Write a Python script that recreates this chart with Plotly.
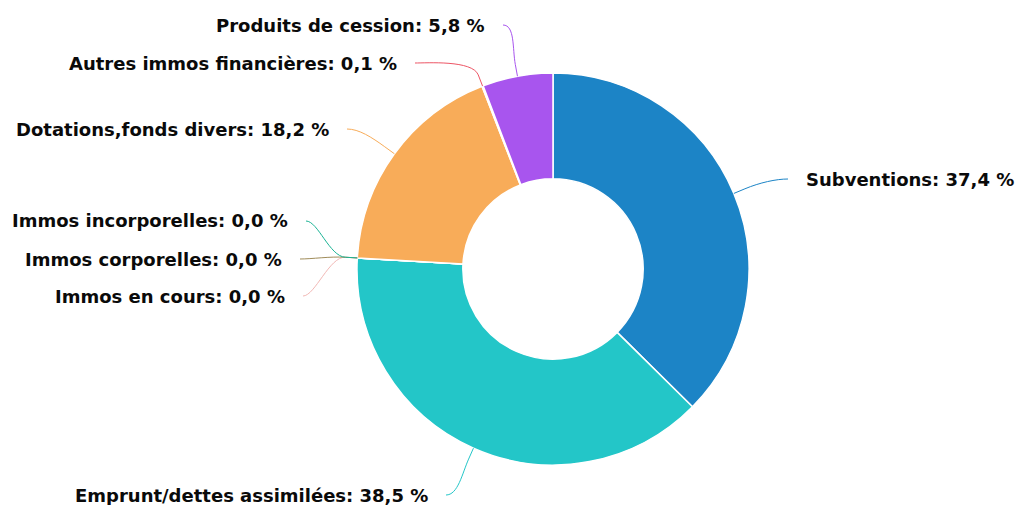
import math
import plotly.graph_objects as go

labels = ["Subventions", "Emprunt/dettes assimilées", "Immos en cours", "Immos corporelles",
          "Immos incorporelles", "Dotations,fonds divers", "Autres immos financières",
          "Produits de cession"]
values = [37.4, 38.5, 0.0, 0.0, 0.0, 18.2, 0.1, 5.8]
colors = ["#1c84c6", "#23c6c8", "#f2b8b5", "#a08c5a", "#1ab394", "#f8ac59", "#ed5565", "#a855ee"]

# label anchor positions (pixels from top-left) - layout only
label_x = [788, 446, 303, 300, 306, 347, 415, 503]
label_y = [179, 495, 296, 259, 221, 129, 63, 25]

W, H = 1016, 505
CX, CY, R = 553, 269, 196

def px(x):
    return x / W

def py(y):
    return 1 - y / H

fig = go.Figure()
fig.add_trace(go.Pie(
    labels=labels, values=values, sort=False, direction="clockwise", rotation=0,
    hole=0.46, textinfo="none", hoverinfo="label+percent",
    marker=dict(colors=colors, line=dict(color="white", width=1.5)),
    domain=dict(x=[px(CX - R), px(CX + R)], y=[py(CY + R), py(CY - R)]),
    showlegend=False,
))

total = sum(values)
cum = 0.0
shapes = []
annotations = []
for lab, v, col, lx, ly in zip(labels, values, colors, label_x, label_y):
    mid = (cum + v / 2) / total * 2 * math.pi
    cum += v
    sx, sy = math.sin(mid), -math.cos(mid)
    ex, ey = CX + R * sx, CY + R * sy
    bx, by = CX + (R + 12) * sx, CY + (R + 12) * sy
    side = 1 if sx >= 0 else -1
    ax = lx
    c1x, c1y = bx + 16 * sx, by + 16 * sy
    c2x, c2y = ax - side * 12, ly
    path = (f"M {px(ex)} {py(ey)} L {px(bx)} {py(by)} "
            f"C {px(c1x)} {py(c1y)} {px(c2x)} {py(c2y)} {px(ax)} {py(ly)}")
    shapes.append(dict(type="path", xref="paper", yref="paper", path=path,
                       line=dict(color=col, width=1)))
    pct = f"{v:.1f}".replace(".", ",")
    annotations.append(dict(
        x=px(ax + side * 16), y=py(ly), xref="paper", yref="paper",
        text=f"{lab}: {pct} %", showarrow=False,
        xanchor="left" if side > 0 else "right", yanchor="middle",
        font=dict(family="DejaVu Sans", size=18, color="#0a0a0a", weight="bold"),
    ))

fig.update_layout(
    width=W, height=H, margin=dict(l=0, r=0, t=0, b=0),
    paper_bgcolor="white", plot_bgcolor="white",
    shapes=shapes, annotations=annotations,
)
fig.write_html("out.html", config={"displayModeBar": False},
               post_script="document.body.style.margin='0';")
